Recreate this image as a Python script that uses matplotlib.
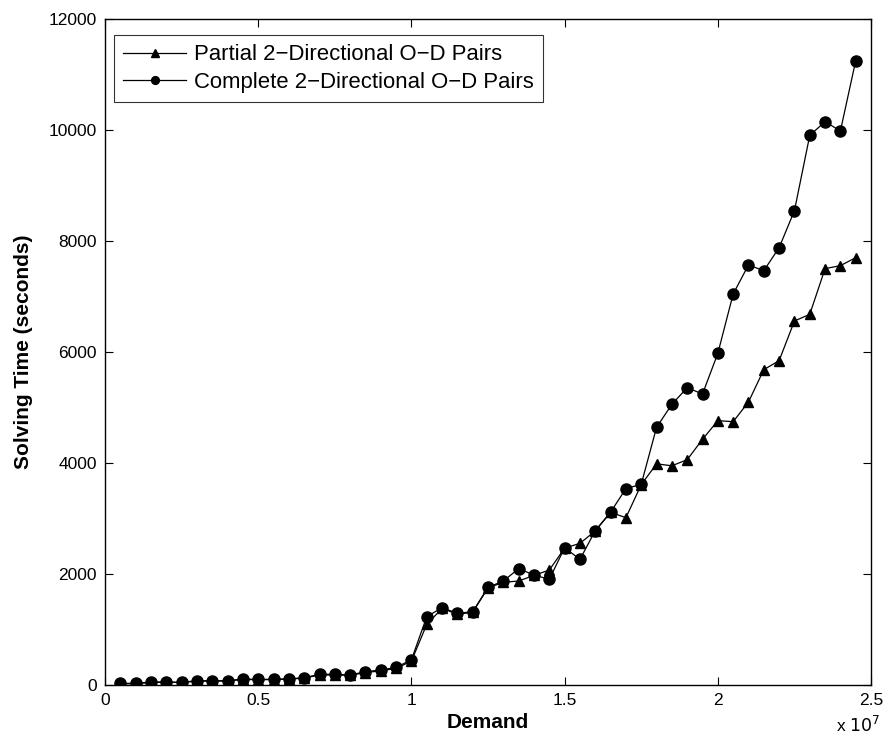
import matplotlib
matplotlib.use("Agg")
from matplotlib import pyplot as plt
from matplotlib.ticker import FuncFormatter

plt.rcParams['font.family'] = ['Liberation Sans', 'DejaVu Sans']

# demand values (x axis), in vehicles
demand = [0.5e6, 1.0e6, 1.5e6, 2.0e6, 2.5e6, 3.0e6, 3.5e6, 4.0e6, 4.5e6, 5.0e6,
          5.5e6, 6.0e6, 6.5e6, 7.0e6, 7.5e6, 8.0e6, 8.5e6, 9.0e6, 9.5e6, 10.0e6,
          10.5e6, 11.0e6, 11.5e6, 12.0e6, 12.5e6, 13.0e6, 13.5e6, 14.0e6, 14.5e6, 15.0e6,
          15.5e6, 16.0e6, 16.5e6, 17.0e6, 17.5e6, 18.0e6, 18.5e6, 19.0e6, 19.5e6, 20.0e6,
          20.5e6, 21.0e6, 21.5e6, 22.0e6, 22.5e6, 23.0e6, 23.5e6, 24.0e6, 24.5e6]

# solving time in seconds
partial_time = [20, 25, 45, 50, 45, 70, 70, 72, 100, 95,
                98, 105, 125, 180, 182, 175, 225, 255, 300, 430,
                1093, 1380, 1275, 1310, 1750, 1850, 1874, 1975, 2072, 2465,
                2553, 2775, 3110, 3015, 3610, 3985, 3950, 4060, 4427, 4763,
                4745, 5099, 5682, 5844, 6559, 6679, 7502, 7556, 7700]

complete_time = [30, 30, 54, 54, 48, 78, 78, 78, 108, 100,
                 104, 110, 132, 192, 192, 180, 240, 270, 318, 455,
                 1231, 1393, 1291, 1321, 1760, 1874, 2096, 1982, 1904, 2474,
                 2264, 2781, 3115, 3538, 3616, 4643, 5057, 5357, 5243, 5976,
                 7045, 7568, 7465, 7880, 8546, 9904, 10150, 9982, 11249]

x_ticks = [0, 0.5e7, 1.0e7, 1.5e7, 2.0e7, 2.5e7]
y_ticks = [0, 2000, 4000, 6000, 8000, 10000, 12000]


def main():
    fig = plt.figure(figsize=(8.9, 7.54), dpi=100)
    ax = fig.add_axes([0.118, 0.0915, 0.8607, 0.8833])

    ax.plot(demand, partial_time, color='black', lw=0.9, marker='^', markersize=7.5,
            label='Partial 2\u2212Directional O\u2212D Pairs')
    ax.plot(demand, complete_time, color='black', lw=0.9, marker='o', markersize=8,
            label='Complete 2\u2212Directional O\u2212D Pairs')

    ax.set_xlim(0, 2.5e7)
    ax.set_ylim(0, 12000)
    ax.set_xticks(x_ticks)
    ax.set_yticks(y_ticks)
    ax.xaxis.set_major_formatter(FuncFormatter(lambda v, p: '%g' % (v / 1e7)))
    ax.yaxis.set_major_formatter(FuncFormatter(lambda v, p: '%d' % v))
    ax.tick_params(direction='in', top=True, right=True, length=6, width=0.8,
                   labelsize=12.5, pad=6)
    for s in ax.spines.values():
        s.set_linewidth(1.0)

    ax.set_xlabel('Demand', fontsize=15, fontweight='bold', labelpad=3)
    ax.set_ylabel('Solving Time (seconds)', fontsize=15, fontweight='bold', labelpad=11)
    ax.text(1.0117, -0.0706, r'x $10^{7}$', transform=ax.transAxes, ha='right',
            va='baseline', fontsize=12.5)

    leg = ax.legend(loc='upper left', bbox_to_anchor=(0.0117, 0.976), borderaxespad=0,
                    fontsize=15.9, frameon=True, fancybox=False,
                    handlelength=2.85, handletextpad=0.35,
                    markerscale=0.7, labelspacing=0.3, borderpad=0.42)
    leg.get_frame().set_edgecolor('black')
    leg.get_frame().set_linewidth(0.8)

    fig.savefig('out.png', dpi=100)


if __name__ == '__main__':
    main()
